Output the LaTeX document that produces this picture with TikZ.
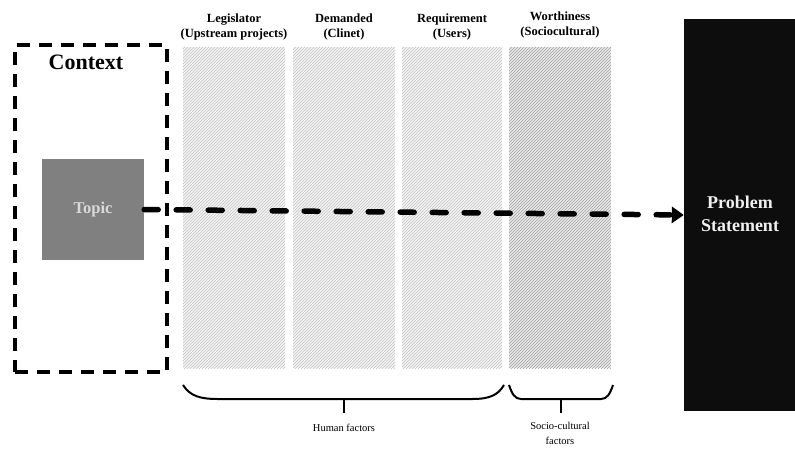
\documentclass[tikz,border=0pt]{standalone}
\usepackage{fontspec}
\setmainfont{Liberation Serif}
\usetikzlibrary{patterns,arrows.meta}

\begin{document}
\begin{tikzpicture}[x=1pt,y=-1pt,
    col/.style={minimum width=102pt,minimum height=321pt,inner sep=0pt,
      preaction={fill=black!4},pattern=north east lines,pattern color=black!24},
    lab/.style={font=\bfseries\fontsize{12.5}{15}\selectfont,align=center},
    bot/.style={font=\fontsize{10.5}{15}\selectfont,align=center},
    brace/.style={line width=2pt}]
\useasboundingbox (0,0) rectangle (795,448);
         \node (Ctx) [draw,line width=4pt,dash pattern=on 13pt off 9pt,
                minimum width=152pt,minimum height=327pt] at (91,208.5) {};
         \node (CtxT) at (86,62) {\bfseries\fontsize{22}{24}\selectfont Context};
         \node (Tp) [fill=black!50,minimum width=102pt,minimum height=101pt]
                at (93,209.5) {\bfseries\fontsize{16.5}{18}\selectfont\color{black!15}Topic};
         \node (C1) [col] at (234,207.5) {};
         \node (C2) [col] at (344,207.5) {};
         \node (C3) [col,minimum width=100pt] at (452,207.5) {};
         \node (C4) [col,preaction={fill=black!9},pattern color=black!36] at (560,207.5) {};
         \node (L1) [lab] at (234,27) {Legislator\\(Upstream projects)};
         \node (L2) [lab] at (344,27) {Demanded\\(Clinet)};
         \node (L3) [lab] at (452,27) {Requirement\\(Users)};
         \node (L4) [lab] at (560,25) {Worthiness\\(Sociocultural)};
         \node (PS) [fill=black!95,minimum width=112pt,minimum height=392pt,inner sep=0pt]
                at (740,215) {};
         \node (PST) [align=center,text=black!6,font=\bfseries\fontsize{18}{23}\selectfont]
                at (740,214) {Problem\\Statement};
         \draw [line width=5.5pt,line cap=round,dash pattern=on 14pt off 18pt,
                -{Triangle[length=12pt,width=16pt]}] (Tp.east) -- (PS.west);
         \draw [brace] (183,385) .. controls (190,396) and (200,399) .. (218,399)
                -- (472,399) .. controls (490,399) and (498,395) .. (504,385);
         \draw [brace] (344,399) -- (344,413);
         \draw [brace] (509,385) .. controls (512,394) and (515,399) .. (521,399)
                -- (601,399) .. controls (607,399) and (610,394) .. (613,385);
         \draw [brace] (561,399) -- (561,413);
         \node (HF) [bot] at (344,428) {Human factors};
         \node (SF) [bot] at (560,433) {Socio-cultural\\factors};
 \end{tikzpicture}
\end{document}
